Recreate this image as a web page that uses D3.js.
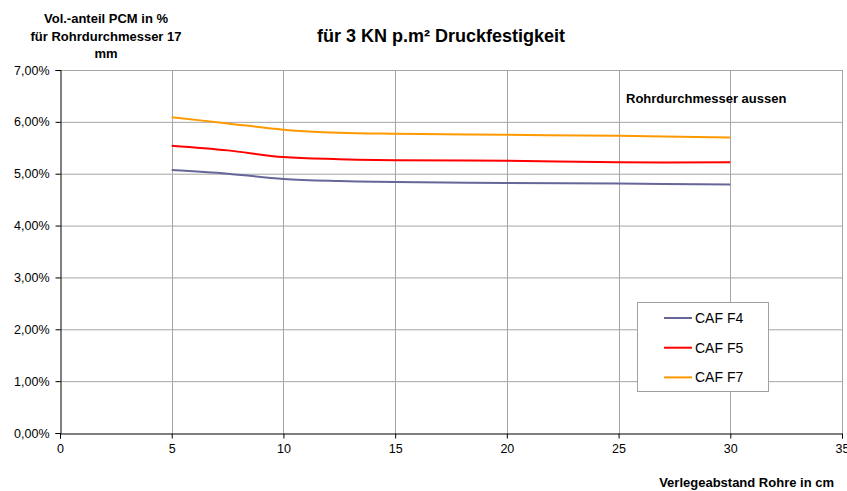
<!DOCTYPE html>
<html>
<head>
<meta charset="utf-8">
<script src="https://cdn.jsdelivr.net/npm/d3@7"></script>
<style>
  html, body { margin: 0; padding: 0; background: #fff; }
  svg { display: block; font-family: "Liberation Sans", Arial, sans-serif; }
</style>
</head>
<body>
<svg id="chart" width="847" height="491"></svg>
<script>
// Pipe spacing (cm) at which the volume share was evaluated
const spacing = [5, 7.5, 10, 12.5, 15, 20, 25, 30];

// Volume share of PCM in % for each CAF type
const cafF4 = [5.07, 5.00, 4.90, 4.86, 4.84, 4.82, 4.81, 4.79];
const cafF5 = [5.54, 5.45, 5.32, 5.28, 5.26, 5.25, 5.22, 5.22];
const cafF7 = [6.09, 5.97, 5.85, 5.79, 5.77, 5.75, 5.73, 5.70];

const seriesNames = ["CAF F4", "CAF F5", "CAF F7"];
const seriesColors = ["#666699", "#FF0000", "#FF9900"];

const xTicks = [0, 5, 10, 15, 20, 25, 30, 35];
const yTicks = [0, 1, 2, 3, 4, 5, 6, 7];

const chartTitle = "für 3 KN p.m² Druckfestigkeit";
const yTitle = ["Vol.-anteil PCM in %", "für Rohrdurchmesser 17", "mm"];
const xTitle = "Verlegeabstand Rohre in cm";
const noteText = "Rohrdurchmesser aussen";

const series = [cafF4, cafF5, cafF7].map((vals, i) => ({
  name: seriesNames[i],
  color: seriesColors[i],
  points: vals.map((v, j) => [spacing[j], v])
}));

const svg = d3.select("#chart");
const plot = { left: 60, right: 842, top: 70, bottom: 433 };

const x = d3.scaleLinear().domain([0, 35]).range([plot.left, plot.right]);
const y = d3.scaleLinear().domain([0, 7]).range([plot.bottom, plot.top]);

// Grid
const grid = svg.append("g");
grid.selectAll("line.h").data(yTicks.filter(d => d > 0)).join("line")
  .attr("x1", plot.left).attr("x2", plot.right)
  .attr("y1", d => y(d) + 0.5).attr("y2", d => y(d) + 0.5)
  .attr("stroke", "#a6a6a6").attr("stroke-width", 1);
grid.selectAll("line.v").data(xTicks.filter(d => d > 0)).join("line")
  .attr("x1", d => Math.round(x(d)) + 0.5).attr("x2", d => Math.round(x(d)) + 0.5)
  .attr("y1", plot.top).attr("y2", plot.bottom)
  .attr("stroke", "#a6a6a6").attr("stroke-width", 1);

// Axes
const fmtPct = d => d3.format(".2f")(d).replace(".", ",") + "%";
const yAxis = svg.append("g")
  .attr("transform", `translate(${plot.left + 0.5},0)`)
  .call(d3.axisLeft(y).tickValues(yTicks).tickFormat(fmtPct).tickSize(5).tickPadding(6));
const xAxis = svg.append("g")
  .attr("transform", `translate(0,${plot.bottom + 0.5})`)
  .call(d3.axisBottom(x).tickValues(xTicks).tickFormat(d3.format("d")).tickSize(5).tickPadding(6));
[xAxis, yAxis].forEach(a => {
  a.select(".domain").attr("stroke", "#000");
  a.selectAll(".tick line").attr("stroke", "#000");
  a.selectAll(".tick text").attr("fill", "#000")
    .style("font-family", "'Liberation Sans', Arial, sans-serif").style("font-size", "12.5px");
});

// Lines
const line = d3.line().x(d => x(d[0])).y(d => y(d[1])).curve(d3.curveCatmullRom);
svg.append("g").selectAll("path").data(series).join("path")
  .attr("d", d => line(d.points))
  .attr("fill", "none")
  .attr("stroke", d => d.color)
  .attr("stroke-width", 2);

// Titles
svg.append("text").attr("x", 441).attr("y", 42).attr("text-anchor", "middle")
  .attr("font-weight", "bold").attr("font-size", "18px").text(chartTitle);

svg.append("g").selectAll("text").data(yTitle).join("text")
  .attr("x", 106).attr("y", (d, i) => 23 + i * 17.5)
  .attr("text-anchor", "middle").attr("font-weight", "bold").attr("font-size", "13px")
  .text(d => d);

svg.append("text").attr("x", 834).attr("y", 487).attr("text-anchor", "end")
  .attr("font-weight", "bold").attr("font-size", "13px").text(xTitle);

svg.append("text").attr("x", 626).attr("y", 103).attr("font-weight", "bold")
  .attr("font-size", "13px").text(noteText);

// Legend
const legend = svg.append("g");
legend.append("rect").attr("x", 637.5).attr("y", 302.5).attr("width", 131).attr("height", 89)
  .attr("fill", "#fff").attr("stroke", "#a0a0a0").attr("stroke-width", 1);
const rows = legend.selectAll("g.row").data(series).join("g")
  .attr("transform", (d, i) => `translate(0,${318 + i * 29.7})`);
rows.append("line").attr("x1", 664).attr("x2", 692).attr("y1", 0).attr("y2", 0)
  .attr("stroke", d => d.color).attr("stroke-width", 2);
rows.append("text").attr("x", 695).attr("y", 5).attr("font-size", "14px").text(d => d.name);
</script>
</body>
</html>
